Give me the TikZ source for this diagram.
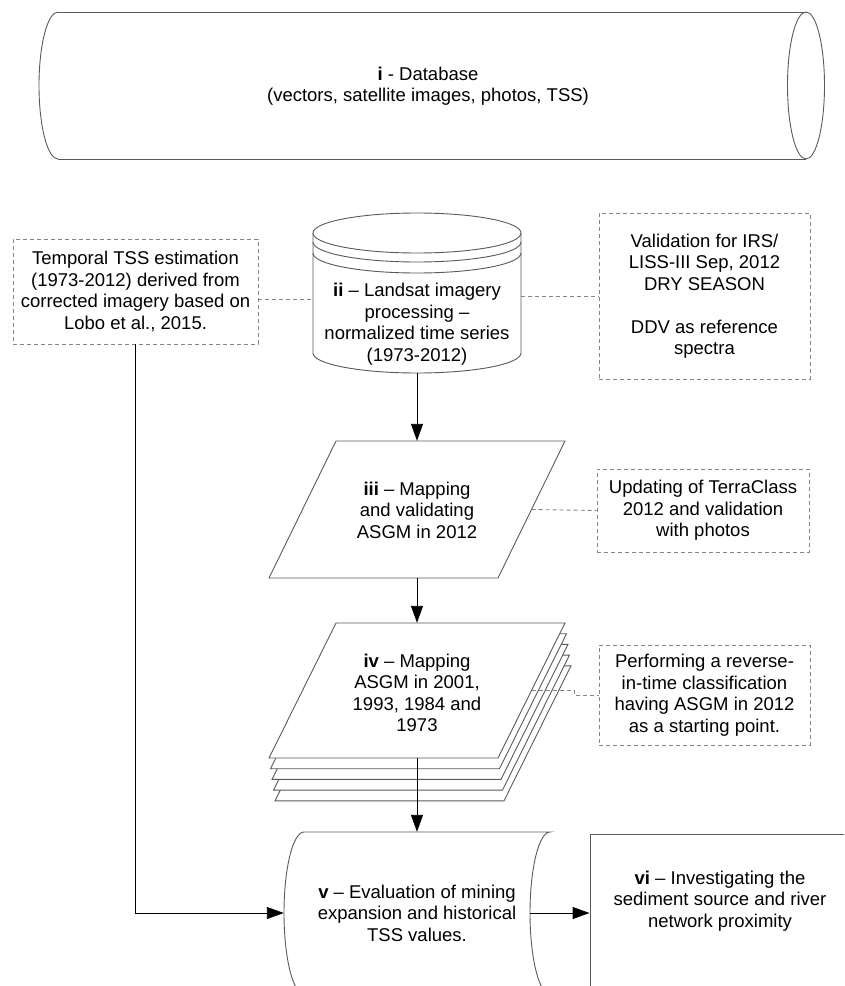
\documentclass[tikz,border=0pt]{standalone}
\usepackage{fontspec}
\setmainfont{Liberation Sans}
\usetikzlibrary{arrows.meta,calc,positioning}
\definecolor{edge}{HTML}{5a5a5a}
\definecolor{linkgray}{HTML}{858585}

\begin{document}
\begin{tikzpicture}[x=1pt,y=-1pt,font=\fontsize{18.5}{21.5}\selectfont,
  outline/.style={draw=none,inner sep=0pt},
  shp/.style={draw=edge,line width=0.9pt},
  txt/.style={align=center,inner sep=0pt},
  note/.style={draw=linkgray,dash pattern=on 4pt off 3pt,line width=0.9pt,align=center,inner sep=0pt},
  link/.style={draw=linkgray,dash pattern=on 4pt off 3pt,line width=0.9pt},
  arr/.style={-{Triangle[length=17pt,width=12pt]},line width=0.9pt}]
  \useasboundingbox (0,0) rectangle (844,986);
  \clip (0,0) rectangle (844,986);

  % i - database (horizontal cylinder)
  \node[outline,minimum width=785,minimum height=147] (db) at (431.5,85.5) {};
  \draw[shp] (58,12) -- (806,12) (58,159) -- (806,159);
  \draw[shp] (58,12) arc[start angle=270,end angle=90,x radius=19,y radius=73.5];
  \draw[shp] (806,85.5) ellipse[x radius=18.5,y radius=73.5];
  \node[txt] (dbtxt) at (428,86) {\textbf{i} - Database\\(vectors, satellite images, photos, TSS)};

  % ii - stacked disk
  \node[outline,minimum width=208,minimum height=160] (lsat) at (417,293) {};
  \draw[shp,fill=white] (313,233) -- (313,353) arc[start angle=180,end angle=0,x radius=104,y radius=20] -- (521,233);
  \draw[shp] (417,233) ellipse[x radius=104,y radius=20];
  \foreach \dy in {9,20}
    \draw[shp] (313,233+\dy) arc[start angle=180,end angle=0,x radius=104,y radius=20];
  \node[txt] (lsattxt) at (417,324) {\textbf{ii} – Landsat imagery\\processing –\\normalized time series\\(1973-2012)};

  % iii - parallelogram
  \node[outline,minimum width=296,minimum height=137] (map12) at (417,509.5) {};
  \draw[shp] (269,578) -- (336,441) -- (565,441) -- (498,578) -- cycle;
  \node[txt] (map12txt) at (417,510) {\textbf{iii} – Mapping\\and validating\\ASGM in 2012};

  % iv - stack of sheets
  \node[outline,minimum width=296,minimum height=135] (map73) at (417,690.5) {};
  \foreach \k in {4,3,2,1,0}
    \draw[shp,fill=white,shift={(1.5*\k,10.7*\k)}] (269,758) -- (336,623) -- (565,623) -- (498,758) -- cycle;
  \node[txt] (map73txt) at (417,693) {\textbf{iv} – Mapping\\ASGM in 2001,\\1993, 1984 and\\1973};

  % v - stored data
  \node[outline,minimum width=266,minimum height=162] (evalv) at (417,913) {};
  \draw[shp] (304,832) -- (550,832) arc[start angle=270,end angle=90,x radius=20,y radius=81]
    -- (304,994) arc[start angle=90,end angle=270,x radius=20,y radius=81];
  \node[txt] (evaltxt) at (417,913) {\textbf{v} – Evaluation of mining\\expansion and historical\\TSS values.};

  % vi
  \node[shp,minimum width=260,minimum height=158] (invest) at (720,913) {};
  \node[txt] (investtxt) at (720,901) {\textbf{vi} – Investigating the\\sediment source and river\\network proximity};

  % notes
  \node[note,minimum width=245,minimum height=105] (tssest) at (135.5,291.5) {Temporal TSS estimation\\(1973-2012) derived from\\corrected imagery based on\\Lobo et al., 2015.};
  \node[note,minimum width=211,minimum height=166] (valid) at (704.5,296) {Validation for IRS/\\LISS-III Sep, 2012\\DRY SEASON\\[21.5pt]DDV as reference\\spectra};
  \node[note,minimum width=212,minimum height=83] (upd) at (703,510.5) {Updating of TerraClass\\2012 and validation\\with photos};
  \node[note,minimum width=211,minimum height=100] (perf) at (704.5,695) {Performing a reverse-\\in-time classification\\having ASGM in 2012\\as a starting point.};

  % dashed links
  \draw[link] ($(tssest.east)+(0,7.5)$) -- ($(tssest.east -| lsat.west)+(0,7.5)$);
  \draw[link] (lsat.east |- valid.west) -- (valid.west);
  \draw[link] ($(map12.east)+(-33.5,0)$) -- (upd.west);
  \draw[link] ($(map73.east)+(-33.5,0)$) -- ++(43,0) |- (perf.west);

  % arrows
  \draw[arr] (lsat.south) -- (map12.north);
  \draw[arr] (map12.south) -- (map73.north);
  \draw[arr] (map73.south) -- (evalv.north);
  \draw[arr] (tssest.south) |- (evalv.west);
  \draw[arr] ($(evalv.east)+(-20,0)$) -- (invest.west);
\end{tikzpicture}
\end{document}
